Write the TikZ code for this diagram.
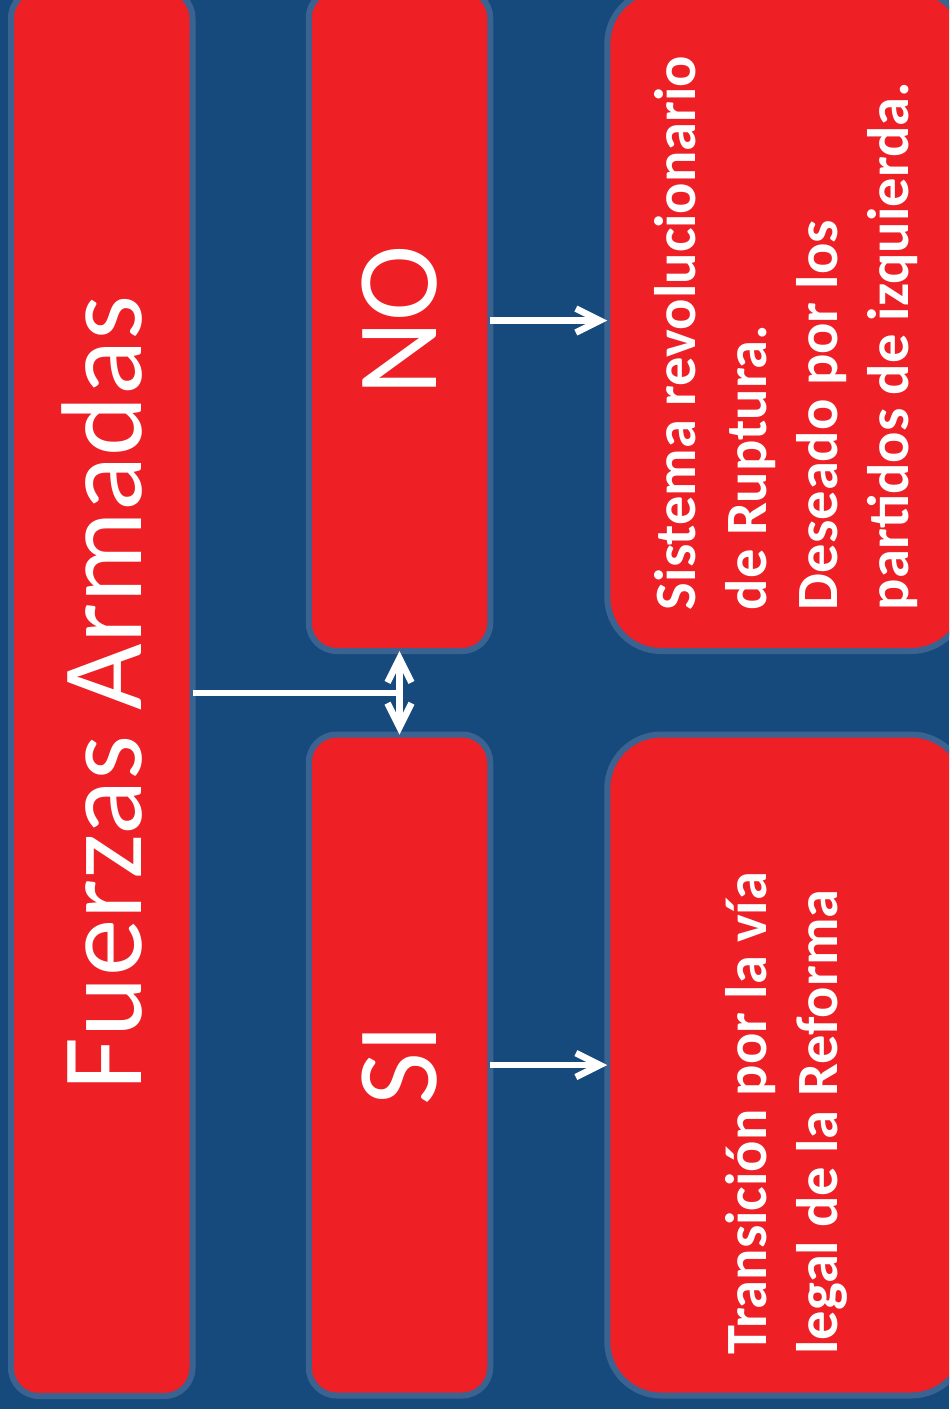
\documentclass[tikz,border=0pt]{standalone}
\usepackage{fontspec}
\setmainfont{Carlito}
\usepackage{graphicx}
\usetikzlibrary{arrows.meta,positioning}
\definecolor{navyback}{HTML}{164A7C}
\definecolor{boxred}{HTML}{EE1F25}
\definecolor{edgeblue}{HTML}{3A6391}

\begin{document}
\begin{tikzpicture}[x=0.5pt,y=-0.5pt,node distance=41.75pt and 58.5pt,
 >={Straight Barb[length=12pt,width=12pt]},
 b/.style={draw=edgeblue,line width=3pt,fill=boxred,text=white,inner sep=0pt,outer sep=0pt,
  rounded corners=14pt,minimum width=90.75pt,minimum height=330.5pt},
 r/.style={b,rounded corners=27pt,minimum width=179pt},
 big/.style={font=\fontsize{57.5pt}{69pt}\selectfont},
 link/.style={draw=white,line width=3.3pt}]
\useasboundingbox (0,0) rectangle (949,1409);
\fill[navyback] (0,0) rectangle (949,1409);
\clip (0,0) rectangle (949,1409);
\node[b,big,minimum height=703pt] (fa) at (101.75,693) {\rotatebox{90}{Fuerzas Armadas}};
\node[b,big] (no) at (399.5,320.5) {\rotatebox{90}{NO}};
\node[b,big,below=of no] (si) {\rotatebox{90}{SI}};
\node[r,right=of no] (ruptura) {\rotatebox{90}{\parbox{289.5pt}{\raggedright\bfseries
 \fontsize{29.25pt}{35.5pt}\selectfont Sistema revolucionario\\de Ruptura.\\Deseado por los\\partidos de izquierda.}}};
\node[r,right=of si] (reforma) {\rotatebox{90}{\parbox{289.5pt}{\raggedright\bfseries
 \fontsize{29.25pt}{35.5pt}\selectfont Transición por la vía\\legal de la Reforma}}};
\draw[link] (fa.east) -- (fa.east -| no.south);
\draw[link,<->] (no.south) -- (si.north);
\draw[link,->] (no.east) -- (ruptura.west);
\draw[link,->] (si.east) -- (reforma.west);
\end{tikzpicture}
\end{document}
